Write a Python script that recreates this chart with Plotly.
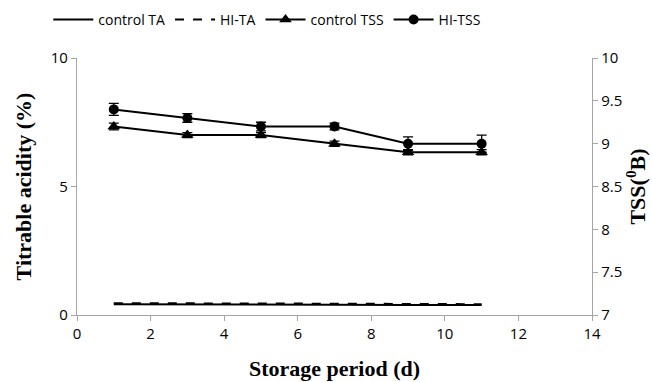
import plotly.graph_objects as go

days = [1, 3, 5, 7, 9, 11]
control_ta = [0.42, 0.42, 0.41, 0.40, 0.39, 0.39]
hi_ta = [0.46, 0.46, 0.45, 0.44, 0.43, 0.42]
control_tss = [9.2, 9.1, 9.1, 9.0, 8.9, 8.9]
control_tss_err = [0.04, 0.03, 0.03, 0.03, 0.03, 0.03]
hi_tss = [9.4, 9.3, 9.2, 9.2, 9.0, 9.0]
hi_tss_err = [0.07, 0.05, 0.05, 0.04, 0.08, 0.10]

fig = go.Figure()
fig.add_trace(go.Scatter(x=days, y=control_ta, name="control TA", mode="lines",
                         line=dict(color="black", width=2)))
fig.add_trace(go.Scatter(x=days, y=hi_ta, name="HI-TA", mode="lines",
                         line=dict(color="black", width=2, dash="dash")))
fig.add_trace(go.Scatter(x=days, y=control_tss, name="control TSS", mode="lines+markers",
                         line=dict(color="black", width=2),
                         marker=dict(symbol="triangle-up", size=11, color="black"),
                         error_y=dict(type="data", array=control_tss_err, visible=True,
                                      color="black", thickness=1.3, width=5),
                         yaxis="y2"))
fig.add_trace(go.Scatter(x=days, y=hi_tss, name="HI-TSS", mode="lines+markers",
                         line=dict(color="black", width=2),
                         marker=dict(symbol="circle", size=10, color="black"),
                         error_y=dict(type="data", array=hi_tss_err, visible=True,
                                      color="black", thickness=1.3, width=5),
                         yaxis="y2"))

tickfont = dict(family="Open Sans, Liberation Sans, sans-serif", size=15, color="black")
titlefont = dict(family="Liberation Serif, Times New Roman, serif", size=22, color="black")

fig.update_layout(
    width=652, height=382,
    margin=dict(l=77, r=60, t=58, b=67, autoexpand=False),
    paper_bgcolor="white", plot_bgcolor="white",
    showlegend=True,
    legend=dict(orientation="h", x=0.41, xanchor="center", y=0.948, yanchor="middle",
                yref="container", xref="container",
                font=dict(family="Open Sans, Liberation Sans, sans-serif", size=14, color="black"),
                itemwidth=40, traceorder="normal"),
    xaxis=dict(range=[0, 14], dtick=2, showline=True, linecolor="#a6a6a6", linewidth=1.3,
               ticks="outside", tickcolor="#a6a6a6", ticklen=5, showgrid=False, zeroline=False,
               tickfont=tickfont, automargin=False,
               title=dict(text="<b>Storage period (d)</b>", font=titlefont, standoff=18)),
    yaxis=dict(range=[0, 10], dtick=5, showline=True, linecolor="#a6a6a6", linewidth=1.3,
               ticks="outside", tickcolor="#a6a6a6", ticklen=5, showgrid=False, zeroline=False,
               tickfont=tickfont, automargin=False,
               title=dict(text="<b>Titrable acidity (%)</b>", font=titlefont, standoff=12)),
    yaxis2=dict(range=[7, 10], dtick=0.5, overlaying="y", side="right", showline=True,
                linecolor="#a6a6a6", linewidth=1.3, ticks="outside", tickcolor="#a6a6a6",
                ticklen=5, showgrid=False, zeroline=False, tickfont=tickfont, automargin=False,
                title=dict(text="<b>TSS(<sup>0</sup>B)</b>", font=titlefont, standoff=8)),
)

fig.write_html("out.html")
